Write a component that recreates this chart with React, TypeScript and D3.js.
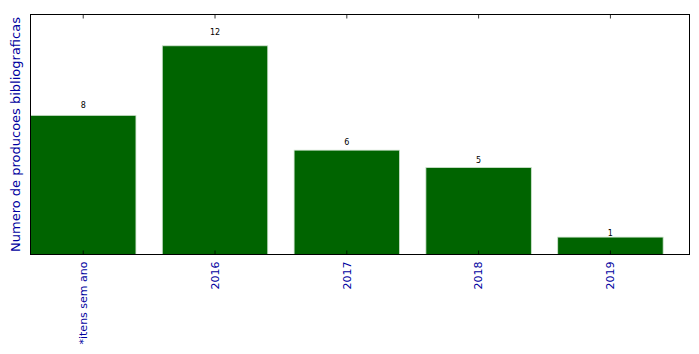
import React from "react";
import * as d3 from "d3";

const categories = ["*itens sem ano", "2016", "2017", "2018", "2019"];
const values = [8, 12, 6, 5, 1];
const yLabel = "Numero de producoes bibliograficas";

const W = 699;
const H = 354;
const M = { left: 30.5, top: 14.5, right: 689.5, bottom: 254.5 };

export default function App() {
  const x = d3.scaleLinear().domain([-0.4, categories.length - 0.4]).range([M.left, M.right]);
  const y = d3.scaleLinear().domain([0, d3.max(values)! * 1.15]).range([M.bottom, M.top]);
  const bw = x(0.8) - x(0);
  const font = "'DejaVu Sans', sans-serif";
  const labelColor = "#0000a0";
  return (
    <svg width={W} height={H} style={{ position: "absolute", left: 0, top: 0, background: "#fff" }}>
      <rect x={0} y={0} width={W} height={H} fill="#fff" />
      {values.map((v, i) => (
        <rect
          key={i}
          x={x(i - 0.4)}
          y={y(v)}
          width={bw}
          height={y(0) - y(v)}
          fill="#006400"
          stroke="#cfe3cf"
          strokeWidth={0.8}
        />
      ))}
      {values.map((v, i) => (
        <text
          key={"l" + i}
          x={x(i)}
          y={y(v * 1.05)}
          textAnchor="middle"
          fontFamily={font}
          fontSize={8}
          fill="#000"
        >
          {v}
        </text>
      ))}
      <rect
        x={M.left}
        y={M.top}
        width={M.right - M.left}
        height={M.bottom - M.top}
        fill="none"
        stroke="#000"
        strokeWidth={1}
      />
      {categories.map((c, i) => (
        <g key={"t" + i}>
          <line x1={x(i)} x2={x(i)} y1={M.bottom} y2={M.bottom - 4} stroke="#000" strokeWidth={0.8} />
          <line x1={x(i)} x2={x(i)} y1={M.top} y2={M.top + 4} stroke="#000" strokeWidth={0.8} />
          <text
            transform={`translate(${x(i) + 3.8},${M.bottom + 7}) rotate(-90)`}
            textAnchor="end"
            fontFamily={font}
            fontSize={11}
            fill={labelColor}
          >
            {c}
          </text>
        </g>
      ))}
      <text
        transform={`translate(20,${(M.top + M.bottom) / 2}) rotate(-90)`}
        textAnchor="middle"
        fontFamily={font}
        fontSize={13}
        fill={labelColor}
      >
        {yLabel}
      </text>
    </svg>
  );
}
